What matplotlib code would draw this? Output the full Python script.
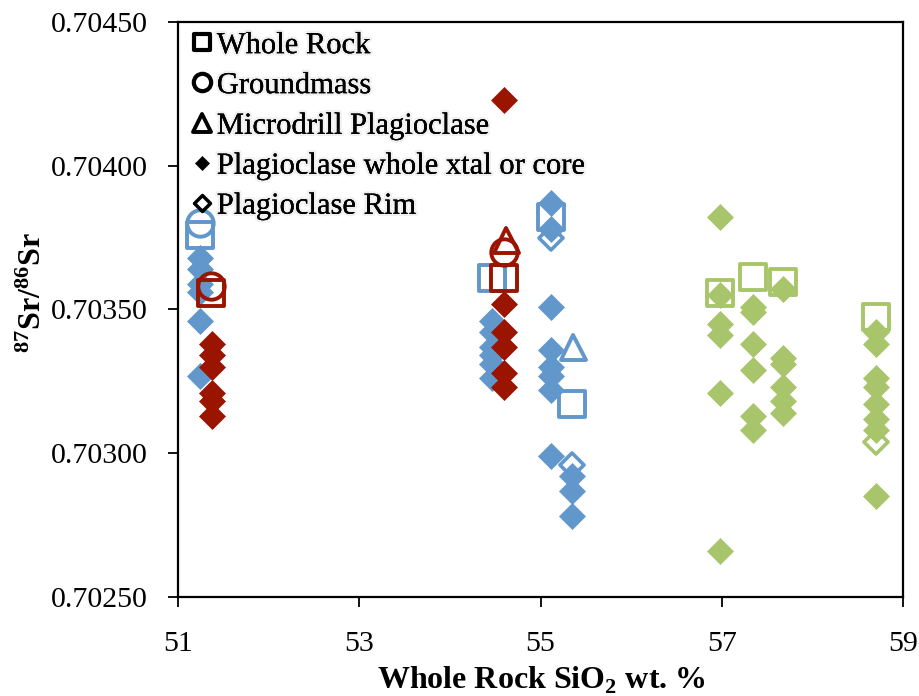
import matplotlib
matplotlib.use("Agg")
import matplotlib.pyplot as plt
from matplotlib.lines import Line2D
from matplotlib.markers import MarkerStyle
from matplotlib.ticker import FormatStrFormatter, FixedLocator
import matplotlib.patheffects as pe

plt.rcParams['font.family'] = ['Liberation Serif', 'DejaVu Serif']
plt.rcParams['mathtext.fontset'] = 'custom'
plt.rcParams['mathtext.rm'] = 'Liberation Serif'
plt.rcParams['mathtext.bf'] = 'Liberation Serif:bold'

# ---------------- data ----------------
x_ticks = [51, 53, 55, 57, 59]
y_ticks = [0.70250, 0.70300, 0.70350, 0.70400, 0.70450]

# blue group
blue_wr_x = [51.24, 54.47, 55.12, 55.35]
blue_wr_y = [0.70376, 0.70361, 0.70382, 0.70317]
blue_gm_x = [51.24]
blue_gm_y = [0.70380]
blue_md_x = [55.36]
blue_md_y = [0.70337]
blue_pl_x = [51.24, 51.24, 51.24, 51.24, 51.24, 51.24,
             54.47, 54.47, 54.47, 54.47, 54.47, 54.47,
             55.12, 55.12, 55.12, 55.12, 55.12, 55.12, 55.12, 55.12,
             55.35, 55.35, 55.35]
blue_pl_y = [0.70368, 0.70364, 0.70359, 0.70356, 0.70346, 0.70327,
             0.70346, 0.70342, 0.70337, 0.70334, 0.70331, 0.70326,
             0.70387, 0.70378, 0.70351, 0.70336, 0.70330, 0.70327, 0.70322, 0.70299,
             0.70292, 0.70287, 0.70278]
blue_rim_x = [55.12, 55.35]
blue_rim_y = [0.70375, 0.70296]

# red group
red_wr_x = [51.36, 54.60]
red_wr_y = [0.703557, 0.70361]
red_gm_x = [51.36, 54.60]
red_gm_y = [0.70358, 0.70370]
red_md_x = [54.62]
red_md_y = [0.70374]
red_pl_x = [51.37, 51.37, 51.37, 51.37, 51.37, 51.37,
            54.60, 54.60, 54.60, 54.60, 54.60, 54.60]
red_pl_y = [0.70338, 0.70334, 0.70330, 0.70321, 0.70318, 0.70313,
            0.70423, 0.70352, 0.70342, 0.70337, 0.70328, 0.70323]

# green group
green_wr_x = [56.98, 57.34, 57.68, 58.70]
green_wr_y = [0.703557, 0.703613, 0.703596, 0.703474]
green_pl_x = [56.98, 56.98, 56.98, 56.98, 56.98, 56.98,
              57.34, 57.34, 57.34, 57.34, 57.34, 57.34,
              57.68, 57.68, 57.68, 57.68, 57.68, 57.68,
              58.70, 58.70, 58.70, 58.70, 58.70, 58.70, 58.70, 58.70]
green_pl_y = [0.70382, 0.70355, 0.70345, 0.70341, 0.70321, 0.70266,
              0.70351, 0.70349, 0.70338, 0.70329, 0.70313, 0.70308,
              0.70357, 0.70333, 0.70331, 0.70323, 0.70318, 0.70314,
              0.70342, 0.70338, 0.70326, 0.70323, 0.70317, 0.70312, 0.70308, 0.70285]
green_rim_x = [58.70]
green_rim_y = [0.70304]

legend_labels = ['Whole Rock', 'Groundmass', 'Microdrill Plagioclase',
                 'Plagioclase whole xtal or core', 'Plagioclase Rim']

BLUE = '#6197CB'
RED = '#9A1400'
GREEN = '#A8C56B'

# ---------------- figure ----------------
fig = plt.figure(figsize=(9.19, 6.96), dpi=100)
ax = fig.add_axes([178/919, 1-597/696, 725/919, 575/696])

def mk(m):
    return MarkerStyle(m, joinstyle='round')

def filled(x, y, c):
    ax.plot(x, y, ls='none', marker='D', ms=13, mfc=c, mec=c, mew=0.5, zorder=3)

def openm(x, y, c, m, ms, mew=2.8, z=4):
    ax.plot(x, y, ls='none', marker=mk(m), ms=ms, mfc='none', mec=c, mew=mew, zorder=z)

for c, px, py in [(BLUE, blue_pl_x, blue_pl_y), (RED, red_pl_x, red_pl_y), (GREEN, green_pl_x, green_pl_y)]:
    filled(px, py, c)

openm(blue_wr_x, blue_wr_y, BLUE, 's', 19)
openm(blue_gm_x, blue_gm_y, BLUE, 'o', 19)
openm(blue_md_x, blue_md_y, BLUE, '^', 18)
openm(blue_rim_x, blue_rim_y, BLUE, 'D', 12.5, mew=2.6)
openm(red_wr_x, red_wr_y, RED, 's', 19)
openm(red_gm_x, red_gm_y, RED, 'o', 19)
openm(red_md_x, red_md_y, RED, '^', 18)
openm(green_wr_x, green_wr_y, GREEN, 's', 19)
openm(green_rim_x, green_rim_y, GREEN, 'D', 12.5, mew=2.6)

ax.set_xlim(x_ticks[0], x_ticks[-1])
ax.set_ylim(y_ticks[0], y_ticks[-1])
ax.xaxis.set_major_locator(FixedLocator(x_ticks))
ax.yaxis.set_major_locator(FixedLocator(y_ticks))
ax.yaxis.set_major_formatter(FormatStrFormatter('%.5f'))
ax.tick_params(axis='both', direction='out', length=7.5, width=1.3, labelsize=21.5, colors='black')
ax.tick_params(axis='y', pad=14)
ax.tick_params(axis='x', pad=17)
for s in ax.spines.values():
    s.set_linewidth(1.6)
    s.set_color('black')

ax.set_xlabel(r'Whole Rock SiO$_{\mathbf{2}}$ wt. %', fontsize=23, fontweight='bold', va='center')
ax.xaxis.set_label_coords(0.5007, -0.145)
ax.set_ylabel(r'$\mathbf{^{87}Sr/^{86}Sr}$', fontsize=23, va='center')
ax.yaxis.set_label_coords(-0.200, 0.53)

handles = [
    Line2D([], [], ls='none', marker=mk('s'), ms=12, mfc='none', mec='black', mew=3),
    Line2D([], [], ls='none', marker=mk('o'), ms=12.5, mfc='none', mec='black', mew=3),
    Line2D([], [], ls='none', marker=mk('^'), ms=12.5, mfc='none', mec='black', mew=2.8),
    Line2D([], [], ls='none', marker='D', ms=7.5, mfc='black', mec='black', mew=0.5),
    Line2D([], [], ls='none', marker=mk('D'), ms=8.5, mfc='none', mec='black', mew=2.5),
]
leg = ax.legend(handles, legend_labels, loc='upper left', bbox_to_anchor=(0.008, 1.0),
                frameon=False, fontsize=22, handlelength=0.6, handletextpad=0.18,
                labelspacing=0.36, borderpad=0.3, borderaxespad=0)
for t in leg.get_texts():
    t.set_path_effects([pe.withStroke(linewidth=3.5, foreground=(0, 0, 0, 0.06)), pe.Normal()])

fig.savefig('out.png', dpi=100)
